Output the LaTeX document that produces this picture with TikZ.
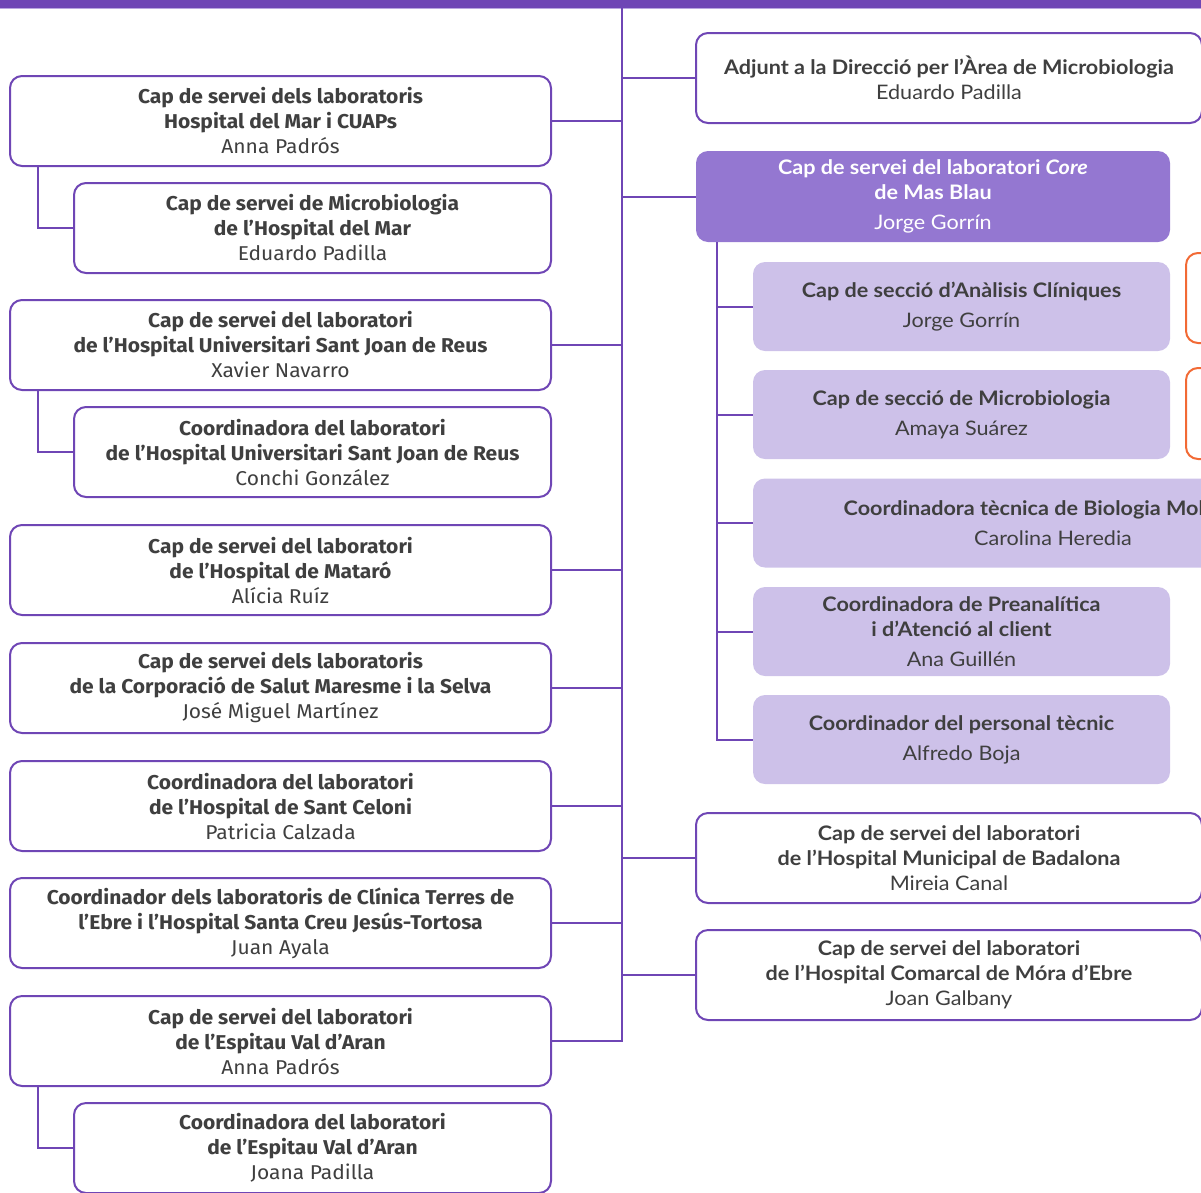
\documentclass[tikz,border=0pt]{standalone}
\usepackage{fontspec}
\setmainfont{Lato}
\newfontfamily\lf{Fira Sans}[FakeStretch=1.05]
\newfontfamily\rf{Lato}[FakeStretch=1.08]
\definecolor{purp}{HTML}{6F46B5}
\definecolor{lavline}{HTML}{B9A6E0}
\definecolor{corefill}{HTML}{9477D1}
\definecolor{secfill}{HTML}{CDC1E9}
\definecolor{orng}{HTML}{F26A35}
\definecolor{txt}{HTML}{3F3F3F}
\tikzset{
  conn/.style={draw=purp, line width=2pt},
  lbox/.style={draw=purp, line width=2pt, rounded corners=12pt, fill=white,
    minimum height=90pt, inner sep=0pt, align=center, text=txt,
    font=\lf\fontsize{20}{25}\selectfont},
  rbox/.style={draw=purp, line width=2pt, rounded corners=12pt, fill=white,
    minimum height=90pt, minimum width=506pt, inner sep=0pt, align=center, text=txt,
    font=\rf\fontsize{20}{25}\selectfont},
  corebox/.style={fill=corefill, rounded corners=12pt, minimum width=474pt,
    minimum height=91pt, inner sep=0pt, align=center, text=white,
    font=\rf\fontsize{20}{25}\selectfont},
  secbox/.style={fill=secfill, rounded corners=12pt, minimum height=89pt,
    inner sep=0pt, align=center, text=txt, font=\rf\fontsize{20}{25}\selectfont},
  obox/.style={draw=orng, line width=2pt, rounded corners=12pt, minimum width=214pt,
    inner sep=0pt},
}
\begin{document}
\begin{tikzpicture}[x=1pt,y=-1pt]
\useasboundingbox (0,0) rectangle (1201,1192);
\clip (0,0) rectangle (1201,1192);
\fill[purp] (0,0) rectangle (1201,8);
\draw[lavline, line width=1pt] (0,8.5) -- (1201,8.5);

\coordinate (top) at (622,8);

% left column
\node[lbox, minimum width=541pt] (L1) at (280.5,121) {\textbf{Cap de servei dels laboratoris}\\\textbf{Hospital del Mar i CUAPs}\\Anna Padrós};
\node[lbox, minimum width=477pt] (L1s) at (312.5,228) {\textbf{Cap de servei de Microbiologia}\\\textbf{de l’Hospital del Mar}\\Eduardo Padilla};
\node[lbox, minimum width=541pt] (L2) at (280.5,345) {\textbf{Cap de servei del laboratori}\\\textbf{de l’Hospital Universitari Sant Joan de Reus}\\Xavier Navarro};
\node[lbox, minimum width=477pt] (L2s) at (312.5,452) {\textbf{Coordinadora del laboratori}\\\textbf{de l’Hospital Universitari Sant Joan de Reus}\\Conchi González};
\node[lbox, minimum width=541pt] (L3) at (280.5,570) {\textbf{Cap de servei del laboratori}\\\textbf{de l’Hospital de Mataró}\\Alícia Ruíz};
\node[lbox, minimum width=541pt] (L4) at (280.5,688) {\textbf{Cap de servei dels laboratoris}\\\textbf{de la Corporació de Salut Maresme i la Selva}\\José Miguel Martínez};
\node[lbox, minimum width=541pt] (L5) at (280.5,806) {\textbf{Coordinadora del laboratori}\\\textbf{de l’Hospital de Sant Celoni}\\Patricia Calzada};
\node[lbox, minimum width=541pt] (L6) at (280.5,923) {\textbf{Coordinador dels laboratoris de Clínica Terres de}\\\textbf{l’Ebre i l’Hospital Santa Creu Jesús-Tortosa}\\Juan Ayala};
\node[lbox, minimum width=541pt] (L7) at (280.5,1041) {\textbf{Cap de servei del laboratori}\\\textbf{de l’Espitau Val d’Aran}\\Anna Padrós};
\node[lbox, minimum width=477pt] (L7s) at (312.5,1148) {\textbf{Coordinadora del laboratori}\\\textbf{de l’Espitau Val d’Aran}\\Joana Padilla};

% right column
\node[rbox] (R1) at (949,78) {\textbf{Adjunt a la Direcció per l’Àrea de Microbiologia}\\Eduardo Padilla};
\node[corebox] (C) at (933,196.5) {\textbf{Cap de servei del laboratori \textit{Core}}\\\textbf{de Mas Blau}\\[5pt]Jorge Gorrín};
\node[secbox, minimum width=417pt] (S1) at (961.5,306.5) {\textbf{Cap de secció d’Anàlisis Clíniques}\\[5pt]Jorge Gorrín};
\node[secbox, minimum width=417pt] (S2) at (961.5,414.5) {\textbf{Cap de secció de Microbiologia}\\[5pt]Amaya Suárez};
\node[secbox, minimum width=600pt] (S3) at (1053,523) {\textbf{Coordinadora tècnica de Biologia Molecular}\\[5pt]Carolina Heredia};
\node[secbox, minimum width=417pt] (S4) at (961.5,631.5) {\textbf{Coordinadora de Preanalítica}\\\textbf{i d’Atenció al client}\\[5pt]Ana Guillén};
\node[secbox, minimum width=417pt] (S5) at (961.5,739.5) {\textbf{Coordinador del personal tècnic}\\[5pt]Alfredo Boja};
\node[obox, minimum height=90pt] (O1) at (1293,298) {};
\node[obox, minimum height=91pt] (O2) at (1293,413.5) {};
\node[rbox] (R2) at (949,858) {\textbf{Cap de servei del laboratori}\\\textbf{de l’Hospital Municipal de Badalona}\\Mireia Canal};
\node[rbox] (R3) at (949,975) {\textbf{Cap de servei del laboratori}\\\textbf{de l’Hospital Comarcal de Móra d’Ebre}\\Joan Galbany};

% connectors
\draw[conn] (top) |- (L7.east);
\foreach \n in {L1,L2,L3,L4,L5,L6}{\draw[conn] (\n.east) -- (\n.east -| top);}
\foreach \n in {R1,C,R2,R3}{\draw[conn] (\n.west) -- (\n.west -| top);}
\draw[conn] ([xshift=29pt]L1.south west) |- (L1s.west);
\draw[conn] ([xshift=29pt]L2.south west) |- (L2s.west);
\draw[conn] ([xshift=29pt]L7.south west) |- (L7s.west);
\foreach \n in {S1,S2,S3,S4,S5}{\draw[conn] ([xshift=21pt]C.south west) |- (\n.west);}
\end{tikzpicture}
\end{document}
